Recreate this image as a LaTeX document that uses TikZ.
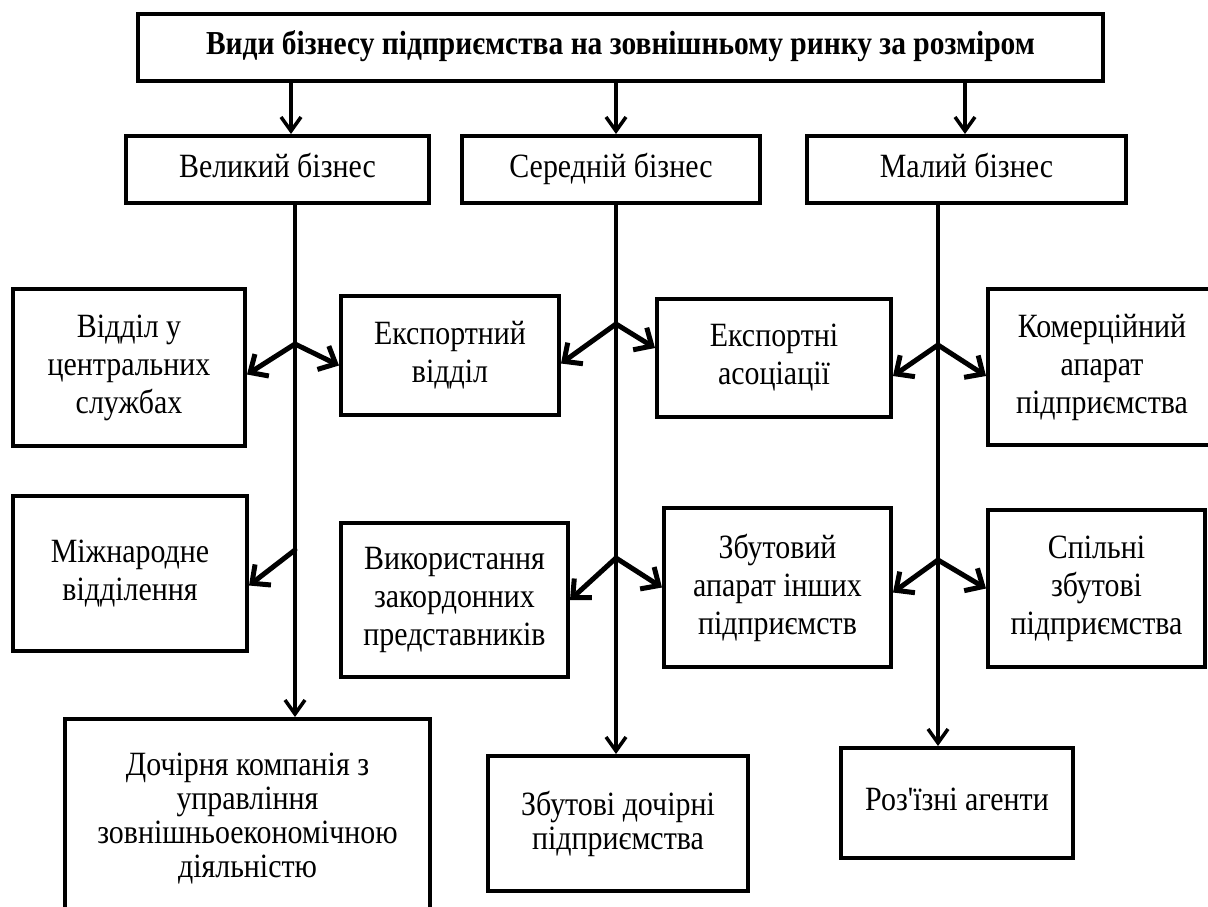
\documentclass[tikz,border=0pt]{standalone}
\usepackage{fontspec}
\setmainfont[FakeStretch=0.88]{Liberation Serif}
\newfontfamily\plainserif[FakeStretch=0.88,Ligatures=ResetAll]{Liberation Serif}
\usetikzlibrary{arrows.meta}
\begin{document}
\begin{tikzpicture}[x=1pt,y=-1pt,
  box/.style={draw, line width=4pt, align=center, inner sep=0pt, font=\fontsize{34}{38}\selectfont},
  onebox/.style={box, text height=23pt, text depth=8pt},
  tightbox/.style={box, font=\fontsize{34}{34}\selectfont},
  titlebox/.style={box, font=\fontsize{33.5}{36}\selectfont\bfseries, text height=23pt, text depth=8pt},
  vline/.style={line width=3.5pt, -{Straight Barb[length=14pt,width=20pt]}},
  diag/.style={line width=5pt, line cap=round, -{Straight Barb[length=14pt,width=26pt]}}]
\useasboundingbox (0,0) rectangle (1208,907);
\clip (0,0) rectangle (1208,907);
\fill[white] (0,0) rectangle (1208,907);

% top and second row
\node[titlebox, minimum width=965pt, minimum height=67pt] (T) at (620.5,47.5) {Види бізнесу підприємства на зовнішньому ринку за розміром};
\node[onebox, minimum width=303pt, minimum height=67pt] (V) at (277.5,169.5) {Великий бізнес};
\node[onebox, minimum width=298pt, minimum height=67pt] (S) at (611,169.5) {Середній бізнес};
\node[onebox, minimum width=319pt, minimum height=67pt] (M) at (966.5,169.5) {Малий бізнес};

% third row
\node[box, minimum width=232pt, minimum height=157pt] (A1) at (129,367.5) {Відділ у\\центральних\\службах};
\node[box, minimum width=218pt, minimum height=119pt] (A2) at (450,355.5) {Експортний\\відділ};
\node[box, minimum width=234pt, minimum height=118pt] (A3) at (774,358) {Експортні\\асоціації};
\node[box, minimum width=228pt, minimum height=156pt] (A4) at (1102,367) {Комерційний\\апарат\\підприємства};

% fourth row
\node[box, minimum width=234pt, minimum height=155pt] (B1) at (130,573.5) {Міжнародне\\відділення};
\node[box, minimum width=227pt, minimum height=154pt] (B2) at (454.5,600) {Використання\\закордонних\\представників};
\node[box, minimum width=227pt, minimum height=159pt] (B3) at (777.5,587.5) {Збутовий\\апарат інших\\підприємств};
\node[box, minimum width=217pt, minimum height=157pt] (B4) at (1096.5,588.5) {Спільні\\збутові\\підприємства};

% bottom row
\node[tightbox, minimum width=365pt, minimum height=200pt] (C1) at (247.5,819) {Дочірня компанія з\\управління\\зовнішньоекономічною\\діяльністю};
\node[tightbox, minimum width=260pt, minimum height=135pt] (C2) at (618,823.5) {Збутові дочірні\\підприємства};
\node[onebox, minimum width=232pt, minimum height=110pt] (C3) at (957,803) {Роз{\plainserif'}їзні агенти};

% branch points
\coordinate (tx1) at (291,0);
\coordinate (tx3) at (965,0);
\coordinate (b1) at (295,344);
\coordinate (b2) at (295,550);
\coordinate (m1) at (616,324);
\coordinate (m2) at (616,558);
\coordinate (r1) at (938,345);
\coordinate (r2) at (938,560);

% vertical connectors
\draw[vline] (T.south -| tx1) -- (V.north -| tx1);
\draw[vline] (T.south -| m1) -- (S.north -| m1);
\draw[vline] (T.south -| tx3) -- (M.north -| tx3);
\draw[vline] (V.south -| b1) -- (C1.north -| b1);
\draw[vline] (S.south -| m1) -- (C2.north -| m1);
\draw[vline] (M.south -| r1) -- (C3.north -| r1);

% diagonal branches
\draw[diag] (b1) -- ([yshift=-7pt]A1.east);
\draw[diag] (b1) -- ([yshift=-10pt]A2.west);
\draw[diag] (b2) -- ([yshift=-12pt]B1.east);
\draw[diag] (m1) -- ([yshift=-8pt]A2.east);
\draw[diag] (m1) -- ([yshift=10pt]A3.west);
\draw[diag] (m2) -- (B2.east);
\draw[diag] (m2) -- (B3.west);
\draw[diag] (r1) -- ([yshift=-18pt]A3.east);
\draw[diag] (r1) -- ([yshift=-9pt]A4.west);
\draw[diag] (r2) -- ([yshift=-5pt]B3.east);
\draw[diag] (r2) -- (B4.west);
\end{tikzpicture}
\end{document}
